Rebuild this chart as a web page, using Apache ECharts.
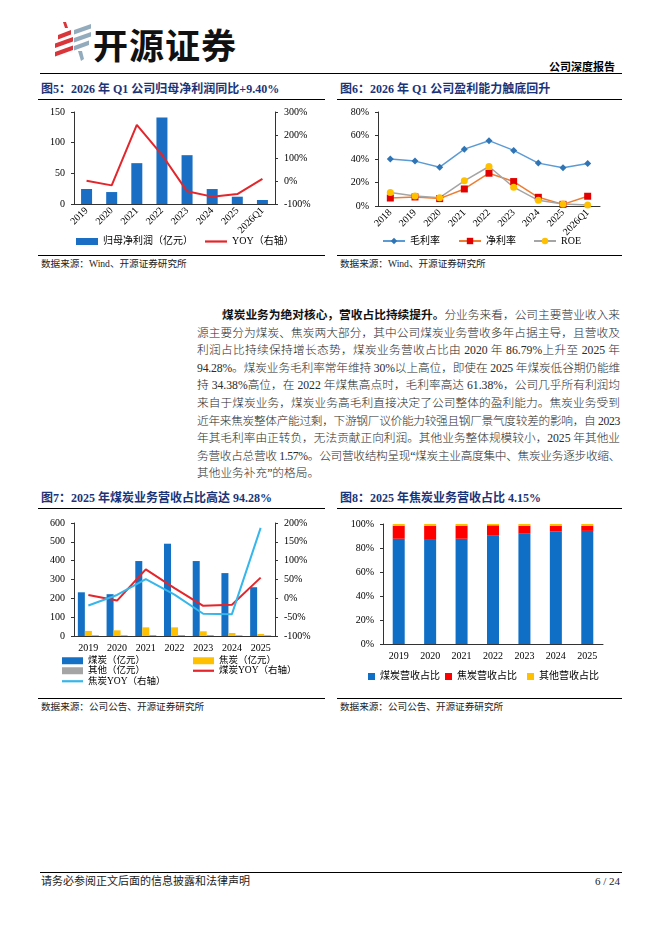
<!DOCTYPE html>
<html><head><meta charset="utf-8">
<script src="https://cdn.jsdelivr.net/npm/echarts@6/dist/echarts.min.js"></script>
<style>
html,body{margin:0;padding:0;background:#fff;}
body{width:662px;height:936px;position:relative;overflow:hidden;font-family:"Liberation Serif","Noto Sans CJK SC",serif;color:#000;}
.abs{position:absolute;white-space:nowrap;}
.title{font-size:12px;font-weight:bold;color:#1B3478;line-height:14px;}
.rule{position:absolute;background:#000;height:1.3px;}
.src{font-size:9.6px;color:#222;line-height:12px;}
.body-line{position:absolute;left:197px;width:423px;font-size:11.7px;line-height:14px;white-space:nowrap;text-align:justify;text-align-last:justify;color:#2a2a2a;font-weight:300;}
.body-line b{font-weight:700;color:#111;}
#c{position:absolute;left:0;top:0;width:662px;height:936px;z-index:2;}
</style>
</head><body>
<svg class="abs" style="left:0;top:0" width="100" height="70">
 <g fill="#D8363A">
  <polygon points="63,22 66,22 68,28 65,28"/>
  <polygon points="58,35 71,30 71,34.5 58,39.5"/>
  <polygon points="55,43.5 73,37 73,41.5 55,48"/>
  <polygon points="55,52 73,45.5 73,50 55,56.5"/>
 </g>
 <g fill="#93ACBD">
  <polygon points="74,30 91,24 91,28.5 74,34.5"/>
  <polygon points="74,38 91,32 91,36.5 74,42.5"/>
  <polygon points="74,46 89,40.5 89,45 74,50.5"/>
  <polygon points="78,51 82,51 84,59 81,61"/>
 </g>
</svg>
<div class="abs" style="left:93px;top:24px;font-family:'Noto Sans CJK SC';font-weight:700;font-size:35px;line-height:40px;color:#111;letter-spacing:1px;">开源证券</div>
<div class="abs" style="left:535px;top:61px;width:80px;text-align:right;font-size:11px;font-weight:bold;line-height:12px;">公司深度报告</div>
<div class="rule" style="left:40px;top:73px;width:582px;"></div>

<div class="abs title" style="left:41px;top:82px;">图5：2026 年 Q1 公司归母净利润同比+9.40%</div>
<div class="abs title" style="left:340px;top:82px;">图6：2026 年 Q1 公司盈利能力触底回升</div>
<div class="rule" style="left:38px;top:99px;width:287px;"></div>
<div class="rule" style="left:337px;top:99px;width:285px;"></div>
<div class="rule" style="left:38px;top:255px;width:287px;"></div>
<div class="rule" style="left:337px;top:255px;width:285px;"></div>
<div class="abs src" style="left:41px;top:258px;">数据来源：Wind、开源证券研究所</div>
<div class="abs src" style="left:340px;top:258px;">数据来源：Wind、开源证券研究所</div>

<div id="bodytext"></div>

<div class="abs title" style="left:41px;top:491px;">图7：2025 年煤炭业务营收占比高达 94.28%</div>
<div class="abs title" style="left:340px;top:491px;">图8：2025 年焦炭业务营收占比 4.15%</div>
<div class="rule" style="left:38px;top:508px;width:287px;"></div>
<div class="rule" style="left:337px;top:508px;width:285px;"></div>
<div class="rule" style="left:38px;top:698px;width:287px;"></div>
<div class="rule" style="left:337px;top:698px;width:285px;"></div>
<div class="abs src" style="left:41px;top:701px;">数据来源：公司公告、开源证券研究所</div>
<div class="abs src" style="left:340px;top:701px;">数据来源：公司公告、开源证券研究所</div>

<div class="rule" style="left:40px;top:872px;width:582px;"></div>
<div class="abs" style="left:41px;top:875px;font-size:11px;line-height:13px;color:#222;">请务必参阅正文后面的信息披露和法律声明</div>
<div class="abs" style="left:560px;top:875px;width:60px;text-align:right;font-size:11px;line-height:13px;color:#222;">6 / 24</div>

<div id="c"></div>
<script>
// ---------- data ----------
const years5 = ['2019','2020','2021','2022','2023','2024','2025','2026Q1'];
const netProfit5 = [24.5, 19.5, 66.6, 141, 79.6, 24.4, 11.9, 6.5];
const netProfitYoy5 = [1, -19, 244, 114, -45, -68, -57, 9.4];

const years6 = ['2018','2019','2020','2021','2022','2023','2024','2025','2026Q1'];
const grossMargin6 = [39.9, 38.2, 33.0, 48.4, 55.6, 47.3, 36.5, 32.5, 36.2];
const netMargin6 = [6.8, 7.7, 6.3, 14.5, 27.9, 20.8, 7.4, 1.4, 8.3];
const roe6 = [11.4, 8.5, 7.1, 21.4, 33.6, 16.0, 4.8, 1.7, 0.9];

const years7 = ['2019','2020','2021','2022','2023','2024','2025'];
const coalRev7 = [232, 222, 398, 490, 398, 334, 259];
const cokeRev7 = [27, 30, 46, 46, 25, 16, 11];
const otherRev7 = [4, 4, 5, 5, 5, 4, 4];
const coalYoy7 = [9, -6, 77, 27, -20, -17, 55];
const cokeYoy7 = [-19, 9, 51, 10, -41, -42, 187];

const years8 = ['2019','2020','2021','2022','2023','2024','2025'];
const coalShare8 = [87.7, 86.79, 87.7, 90.2, 92.2, 93.6, 94.28];
const cokeShare8 = [10.9, 11.8, 10.9, 8.7, 6.4, 5.0, 4.15];
const otherShare8 = [1.4, 1.41, 1.4, 1.1, 1.4, 1.4, 1.57];

const leftTicks5 = [0, 150, 50], rightTicks5 = [-100, 300, 100];
const ticks6 = [0, 80, 20];
const leftTicks7 = [0, 600, 100], rightTicks7 = [-100, 200, 50];
const ticks8 = [0, 100, 20];

const bodyLines = [
 ['<b>煤炭业务为绝对核心，营收占比持续提升。</b>分业务来看，公司主要营业收入来', 222],
 ['源主要分为煤炭、焦炭两大部分，其中公司煤炭业务营收多年占据主导，且营收及', 197],
 ['利润占比持续保持增长态势，煤炭业务营收占比由 2020 年 86.79%上升至 2025 年', 197],
 ['94.28%。煤炭业务毛利率常年维持 30%以上高位，即使在 2025 年煤炭低谷期仍能维', 197],
 ['持 34.38%高位，在 2022 年煤焦高点时，毛利率高达 61.38%，公司几乎所有利润均', 197],
 ['来自于煤炭业务，煤炭业务高毛利直接决定了公司整体的盈利能力。焦炭业务受到', 197],
 ['近年来焦炭整体产能过剩，下游钢厂议价能力较强且钢厂景气度较差的影响，自 2023', 197],
 ['年其毛利率由正转负，无法贡献正向利润。其他业务整体规模较小，2025 年其他业', 197],
 ['务营收占总营收 1.57%。公司营收结构呈现“煤炭主业高度集中、焦炭业务逐步收缩、', 197],
 ['其他业务补充”的格局。', 197]
];

// ---------- body text ----------
const bt = document.getElementById('bodytext');
bodyLines.forEach((l, i) => {
  const d = document.createElement('div');
  d.className = 'body-line';
  d.innerHTML = l[0];
  const w = 620 - l[1];
  d.style.left = l[1] + 'px';
  d.style.width = w + 'px';
  d.style.top = (309 + i * 17.6) + 'px';
  if (i === bodyLines.length - 1) { d.style.textAlign = 'left'; d.style.textAlignLast = 'left'; }
  bt.appendChild(d);
  const span = document.createElement('span');
  span.className = 'body-line';
  span.innerHTML = l[0];
  span.style.cssText = 'position:absolute;visibility:hidden;width:auto;left:0;top:0;text-align:left;text-align-last:auto;';
  document.body.appendChild(span);
  const nat = span.getBoundingClientRect().width;
  const n = span.textContent.length;
  span.remove();
  if (nat > w) d.style.letterSpacing = ((w - nat) / n - 0.05) + 'px';
});

// ---------- chart ----------
const FONT = '"Liberation Serif","Noto Sans CJK SC",serif';
const lbl = {color:'#000', fontSize:10, fontFamily:FONT};
const aLine = {show:true, onZero:false, lineStyle:{color:'#333', width:1}};
const aTick = {show:true, length:3, lineStyle:{color:'#333'}};
const noSplit = {show:false};
function yAx(grid, t, pct, pos){
  return {type:'value', gridIndex:grid, min:t[0], max:t[1], interval:t[2], position:pos||'left',
    axisLine:aLine, axisTick:aTick, splitLine:noSplit,
    axisLabel:Object.assign({}, lbl, {margin:9, formatter: pct ? '{value}%' : '{value}'})};
}
function xAx(grid, data, rot){
  return {type:'category', gridIndex:grid, data:data, axisLine:aLine, axisTick:{show:false},
    axisLabel:Object.assign({}, lbl, {rotate:rot, interval:0, margin: rot ? 5 : 7})};
}
function leg(name, left, top, w, h, fs, icon){
  const item = icon ? {name:name, icon:icon} : {name:name};
  return {data:[item], left:left, top:top, itemWidth:w, itemHeight:h, itemGap:4, padding:0,
    selectedMode:false, textStyle:{fontSize:fs||10, fontFamily:FONT, color:'#000', lineHeight:fs ? fs+1 : 12}};
}

const chart = echarts.init(document.getElementById('c'), null, {renderer:'canvas'});
chart.setOption({
  animation:false,
  backgroundColor:'transparent',
  grid:[
    {left:74, top:112, width:201, height:92},
    {left:378, top:112, width:222, height:94},
    {left:74, top:523, width:201, height:113},
    {left:383, top:524, width:220, height:120}
  ],
  xAxis:[ xAx(0, years5, 45), xAx(1, years6, 45), xAx(2, years7, 0), xAx(3, years8, 0) ],
  yAxis:[
    yAx(0, leftTicks5, false), yAx(0, rightTicks5, true, 'right'),
    yAx(1, ticks6, true),
    yAx(2, leftTicks7, false), yAx(2, rightTicks7, true, 'right'),
    yAx(3, ticks8, true)
  ],
  legend:[
    leg('归母净利润（亿元）', 76, 236, 22, 7, 10, 'rect'),
    leg('YOY（右轴）', 205, 236, 22, 2.2, 10, 'rect'),
    leg('毛利率', 382, 235, 22, 8),
    leg('净利率', 458, 235, 22, 8),
    leg('ROE', 533, 235, 22, 8),
    leg('煤炭（亿元）', 62, 655.5, 21, 7, 9.5, 'rect'),
    leg('焦炭（亿元）', 193, 655.5, 21, 7, 9.5, 'rect'),
    leg('其他（亿元）', 62, 665.5, 21, 7, 9.5, 'rect'),
    leg('煤炭YOY（右轴）', 193, 665.5, 21, 2.2, 9.5, 'rect'),
    leg('焦炭YOY（右轴）', 62, 676, 21, 2.2, 9.5, 'rect'),
    leg('煤炭营收占比', 368, 671, 7, 7, 10, 'rect'),
    leg('焦炭营收占比', 445, 671, 7, 7, 10, 'rect'),
    leg('其他营收占比', 527, 671, 7, 7, 10, 'rect')
  ],
  series:[
    {name:'归母净利润（亿元）', type:'bar', xAxisIndex:0, yAxisIndex:0, data:netProfit5, barWidth:11,
      itemStyle:{color:'#1A6FC4'}},
    {name:'YOY（右轴）', type:'line', xAxisIndex:0, yAxisIndex:1, data:netProfitYoy5, symbol:'none',
      lineStyle:{color:'#E3262B', width:2}, itemStyle:{color:'#E3262B'}},

    {name:'毛利率', type:'line', xAxisIndex:1, yAxisIndex:2, data:grossMargin6, symbol:'diamond', symbolSize:7,
      lineStyle:{color:'#5B9BD5', width:1.5}, itemStyle:{color:'#2F75B5'}},
    {name:'净利率', type:'line', xAxisIndex:1, yAxisIndex:2, data:netMargin6, symbol:'rect', symbolSize:7,
      lineStyle:{color:'#ED7D31', width:1.5}, itemStyle:{color:'#E30000'}},
    {name:'ROE', type:'line', xAxisIndex:1, yAxisIndex:2, data:roe6, symbol:'circle', symbolSize:7,
      lineStyle:{color:'#A5A5A5', width:1.5}, itemStyle:{color:'#FFC000'}},

    {name:'煤炭（亿元）', type:'bar', xAxisIndex:2, yAxisIndex:3, data:coalRev7, barWidth:7, barGap:'0%',
      itemStyle:{color:'#1470C4'}},
    {name:'焦炭（亿元）', type:'bar', xAxisIndex:2, yAxisIndex:3, data:cokeRev7, barWidth:7, barGap:'0%',
      itemStyle:{color:'#FFC000'}},
    {name:'其他（亿元）', type:'bar', xAxisIndex:2, yAxisIndex:3, data:otherRev7, barWidth:7, barGap:'0%',
      itemStyle:{color:'#A5A5A5'}},
    {name:'煤炭YOY（右轴）', type:'line', xAxisIndex:2, yAxisIndex:4, data:coalYoy7, symbol:'none',
      lineStyle:{color:'#E3262B', width:2}, itemStyle:{color:'#E3262B'}},
    {name:'焦炭YOY（右轴）', type:'line', xAxisIndex:2, yAxisIndex:4, data:cokeYoy7, symbol:'none',
      lineStyle:{color:'#36B6EA', width:2}, itemStyle:{color:'#36B6EA'}},

    {name:'煤炭营收占比', type:'bar', stack:'s8', xAxisIndex:3, yAxisIndex:5, data:coalShare8, barWidth:12,
      itemStyle:{color:'#0F6FC6'}},
    {name:'焦炭营收占比', type:'bar', stack:'s8', xAxisIndex:3, yAxisIndex:5, data:cokeShare8, barWidth:12,
      itemStyle:{color:'#FF0000'}},
    {name:'其他营收占比', type:'bar', stack:'s8', xAxisIndex:3, yAxisIndex:5, data:otherShare8, barWidth:12,
      itemStyle:{color:'#FFC000'}}
  ]
});
</script>
</body></html>
